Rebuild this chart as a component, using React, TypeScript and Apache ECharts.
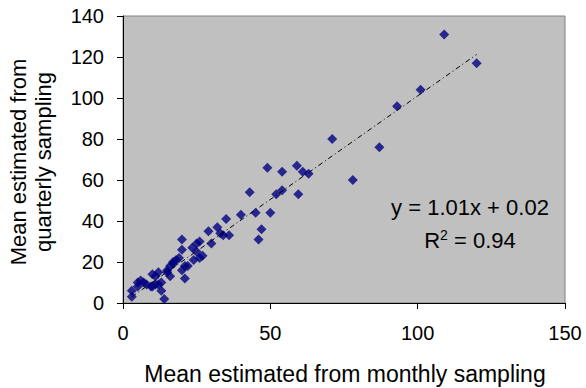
import React, { useEffect, useRef } from "react";
import * as echarts from "echarts";

const monthly: number[] = [
  109, 120, 101, 93, 87, 78, 71,
  49, 59, 54, 61, 63, 43, 52, 54, 59.5, 40, 45, 50, 47, 46, 36, 35, 33, 34, 32, 29, 30,
  20, 20, 23.5, 26, 25, 25, 26, 24, 27, 17, 19, 21, 21, 20, 3, 3, 14, 5, 6, 8, 9.5, 12,
  11, 13, 13, 16, 15, 17, 18, 10, 11, 10, 5, 7, 15, 12, 16, 22,
];
const quarterly: number[] = [
  131, 117, 104, 96, 76, 60, 80,
  66, 67, 64, 64, 63, 54, 53, 55, 53, 43, 44, 44, 36, 31, 33, 41, 34, 33, 37, 35, 29,
  31, 26, 27, 30, 29, 25, 22, 21, 23, 20, 22, 18, 12, 16, 3, 6, 2, 10, 11, 9, 8, 15,
  13, 10, 6, 13, 16, 19, 21, 14, 9, 8, 8, 10, 15, 9, 18, 18,
];
const slope = 1.01;
const intercept = 0.02;
const xTicks = [0, 50, 100, 150];
const yTicks = [0, 20, 40, 60, 80, 100, 120, 140];
const equationText = "y = 1.01x + 0.02";
const r2Value = "0.94";
const xTitle = "Mean estimated from monthly sampling";
const yTitle = ["Mean estimated from", "quarterly sampling"];

export default function App() {
  const ref = useRef<HTMLDivElement>(null);
  useEffect(() => {
    if (!ref.current) return;
    document.body.style.margin = "0";
    const chart = echarts.init(ref.current, null, { renderer: "svg" });
    const points = monthly.map((x, i) => [x, quarterly[i]]);
    const xmin = Math.min(...monthly);
    const xmax = Math.max(...monthly);
    const font = "'Liberation Sans', Arial, sans-serif";
    chart.setOption({
      animation: false,
      backgroundColor: "#ffffff",
      grid: {
        left: 123,
        right: 21,
        top: 16,
        bottom: 85,
        show: true,
        backgroundColor: "#C0C0C0",
        borderColor: "#808080",
        borderWidth: 1,
      },
      xAxis: {
        type: "value",
        min: xTicks[0],
        max: xTicks[xTicks.length - 1],
        interval: 50,
        axisLine: { show: true, onZero: false, lineStyle: { color: "#000", width: 1 } },
        axisTick: { show: true, inside: false, length: 6, lineStyle: { color: "#000" } },
        axisLabel: { color: "#000", fontSize: 20, fontFamily: font, margin: 20 },
        splitLine: { show: false },
      },
      yAxis: {
        type: "value",
        min: yTicks[0],
        max: yTicks[yTicks.length - 1],
        interval: 20,
        axisLine: { show: true, onZero: false, lineStyle: { color: "#000", width: 1 } },
        axisTick: { show: true, inside: false, length: 6, lineStyle: { color: "#000" } },
        axisLabel: { color: "#000", fontSize: 20, fontFamily: font, margin: 19 },
        splitLine: { show: false },
      },
      series: [
        {
          type: "scatter",
          data: points,
          symbol: "diamond",
          symbolSize: 10,
          itemStyle: { color: "#000080" },
          z: 3,
        },
        {
          type: "line",
          data: [
            [xmin, slope * xmin + intercept],
            [xmax, slope * xmax + intercept],
          ],
          symbol: "none",
          lineStyle: { color: "#000", width: 1, type: [5, 3, 1, 3] },
          z: 4,
        },
      ],
      graphic: [
        {
          type: "text",
          x: 345,
          y: 374,
          style: {
            text: xTitle,
            font: `23px ${font}`,
            fill: "#000",
            textAlign: "center",
            textVerticalAlign: "middle",
          },
        },
        {
          type: "text",
          x: 31,
          y: 162,
          rotation: Math.PI / 2,
          style: {
            text: yTitle.join("\n"),
            font: `22px ${font}`,
            lineHeight: 25,
            fill: "#000",
            textAlign: "center",
            textVerticalAlign: "middle",
          },
        },
        {
          type: "text",
          x: 470,
          y: 207,
          style: {
            text: equationText,
            font: `22px ${font}`,
            fill: "#000",
            textAlign: "center",
            textVerticalAlign: "middle",
          },
        },
        {
          type: "text",
          x: 470,
          y: 240,
          style: {
            text: "R{sup|2} = " + r2Value,
            font: `22px ${font}`,
            fill: "#000",
            textAlign: "center",
            textVerticalAlign: "middle",
            rich: {
              sup: {
                fontSize: 14,
                fontFamily: font,
                fill: "#000",
                verticalAlign: "top",
                padding: [0, 0, 10, 0],
              },
            },
          },
        },
      ],
    });
    return () => chart.dispose();
  }, []);
  return <div ref={ref} style={{ width: 586, height: 388 }} />;
}
